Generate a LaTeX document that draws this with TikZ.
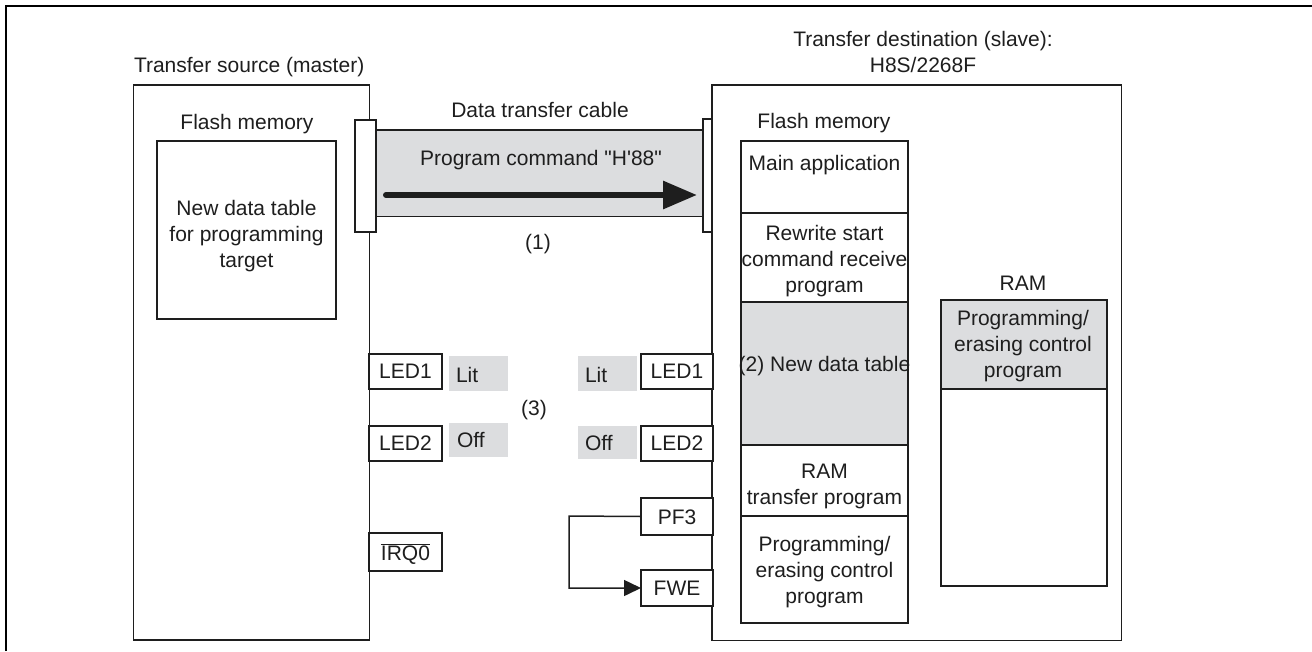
\documentclass[tikz,border=0pt]{standalone}
\usepackage{fontspec}
\setmainfont{Liberation Sans}[Ligatures=TeXOff]
\usetikzlibrary{arrows.meta,fit}
\definecolor{panelgray}{RGB}{220,221,223}
\definecolor{ink}{RGB}{30,30,30}
\begin{document}
\begin{tikzpicture}[x=1pt,y=-1pt,
  every node/.style={inner sep=0pt,outer sep=0pt,text=ink},
  txt/.style={font=\fontsize{21}{26}\selectfont,align=center},
  blk/.style={draw=ink,line width=1.2pt,fill=white,inner sep=0pt},
  gblk/.style={blk,fill=panelgray},
  gpad/.style={fill=panelgray,inner sep=0pt},
  flow/.style={draw=ink,line width=1.5pt,-{Triangle[length=17pt,width=16pt]}},
  bigflow/.style={draw=ink,line width=6pt,line cap=round,-{Triangle[length=34pt,width=27pt]}}
]
\useasboundingbox (0,0) rectangle (1312,651);

% page frame (top and left rules)
\draw[line width=2.5pt,black] (6,651) -- (6,6.2) -- (1312,6.2);

% ---------- master side ----------
\node[blk,fit={(133.5,85) (369.5,640)}] (master) {};
\node[txt,anchor=base west] (mastertitle) at (134,72) {Transfer source (master)};
\node[txt,anchor=base] (mflash) at (247,129) {Flash memory};
\node[blk,fit={(157,141) (336,319)}] (table) {};
% multi-line labels are anchored at the baseline of their last line
\node[txt,anchor=base] (tabletext) at (246.5,267) {New data table\\for programming\\target};

% ---------- cable ----------
\node[gblk,fit={(376,130) (703,216.5)}] (cable) {};
\node[blk,fit={(355,120) (376,232)}] (plugL) {};
\node[blk,fit={(703,119) (723,232)}] (plugR) {};
\node[txt,anchor=base] (cabletitle) at (540,117) {Data transfer cable};
\node[txt,anchor=base] (cmd) at (541,165) {Program command "H'88"};
\coordinate (sendA) at (386,195);
\coordinate (sendB) at (697,195);
\draw[bigflow] (sendA) -- (sendB);
\node[txt] (step1) at (538,244) {(1)};

% ---------- slave side ----------
\node[blk,fit={(712,85) (1121.5,640.5)}] (slave) {};
\node[txt,anchor=base] (slavetitle) at (923,72) {Transfer destination (slave):\\H8S/2268F};
\node[txt,anchor=base] (sflash) at (824,128) {Flash memory};

\node[blk,fit={(741,141) (908,213)}] (mainapp) {};
\node[blk,fit={(741,213) (908,302)}] (rewrite) {};
\node[gblk,fit={(741,302) (908,445)}] (newtable) {};
\node[blk,fit={(741,445) (908,516)}] (ramxfer) {};
\node[blk,fit={(741,516) (908,623)}] (pectl) {};
\node[txt,anchor=base] at (824.5,170) {Main application};
\node[txt,anchor=base] at (824.5,292) {Rewrite start\\command receive\\program};
\node[txt,anchor=base] at (824.5,371) {(2) New data table};
\node[txt,anchor=base] at (824.5,504) {RAM\\transfer program};
\node[txt,anchor=base] at (824.5,603) {Programming/\\erasing control\\program};

\node[txt,anchor=base] (ramtitle) at (1023,290) {RAM};
\node[blk,fit={(941,300) (1107,586)}] (ram) {};
\node[gblk,fit={(941,300) (1107,389)}] (ramprog) {};
\node[txt,anchor=base] at (1023,377) {Programming/\\erasing control\\program};

% ---------- port pins ----------
\node[blk,fit={(369,354) (442,389)}] (mled1) {};
\node[blk,fit={(369,426) (442,461)}] (mled2) {};
\node[blk,fit={(369,533) (442,571)}] (irq) {};
\node[txt,anchor=base] at (405.5,378) {LED1};
\node[txt,anchor=base] at (405.5,450) {LED2};
\node[txt,anchor=base] at (405.5,560) {$\overline{\hbox{IRQ0}}$};

\node[blk,fit={(641,354) (713,389)}] (sled1) {};
\node[blk,fit={(641,426) (713,461)}] (sled2) {};
\node[blk,fit={(641,498) (713,535)}] (pf3) {};
\node[blk,fit={(641,570) (713,606)}] (fwe) {};
\node[txt,anchor=base] at (677,378) {LED1};
\node[txt,anchor=base] at (677,450) {LED2};
\node[txt,anchor=base] at (677,524) {PF3};
\node[txt,anchor=base] at (677,595) {FWE};

% LED states
\node[gpad,fit={(449,356) (508,391)}] (litL) {};
\node[gpad,fit={(449,423) (508,457)}] (offL) {};
\node[gpad,fit={(578,356) (637,391)}] (litR) {};
\node[gpad,fit={(578,426) (637,459)}] (offR) {};
\node[txt,anchor=base west] at (456,382) {Lit};
\node[txt,anchor=base west] at (457,447) {Off};
\node[txt,anchor=base west] at (585,382) {Lit};
\node[txt,anchor=base west] at (585,450) {Off};
\node[txt] (step3) at (534,410) {(3)};

% PF3 drives FWE
\coordinate (loop) at (569,516);
\draw[flow] (pf3.west) -- (loop) |- (fwe.west);

\end{tikzpicture}
\end{document}
